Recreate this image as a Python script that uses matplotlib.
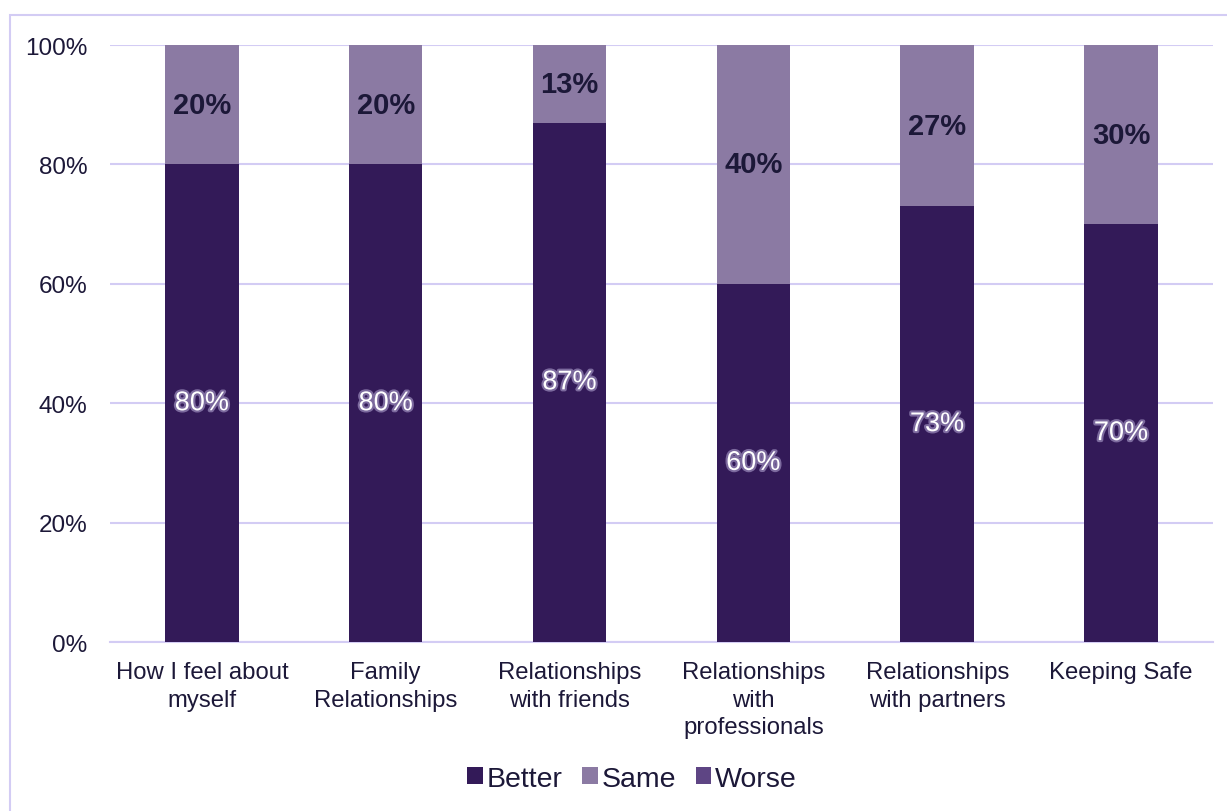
import matplotlib.pyplot as plt
import matplotlib.patheffects as pe
from matplotlib.patches import Rectangle
import numpy as np

plt.rcParams['font.family'] = ['Liberation Sans', 'DejaVu Sans']

# data
categories = ["How I feel about\nmyself", "Family\nRelationships", "Relationships\nwith friends",
              "Relationships\nwith\nprofessionals", "Relationships\nwith partners", "Keeping Safe"]
better = [80, 80, 87, 60, 73, 70]
same = [20, 20, 13, 40, 27, 30]
worse = [0, 0, 0, 0, 0, 0]

c_better = '#331A58'
c_same = '#8B7AA3'
c_worse = '#5E4584'
text_col = '#1C1838'
grid_col = '#D3CCF4'

fig = plt.figure(figsize=(12.27, 8.12), dpi=100)
ax = fig.add_axes([0.0896, 0.2081, 0.8990, 0.7352])

x = np.arange(len(categories))
w = 0.40
b1 = ax.bar(x, better, w, color=c_better, label='Better', zorder=3)
b2 = ax.bar(x, same, w, bottom=better, color=c_same, label='Same', zorder=3)
b3 = ax.bar(x, worse, w, bottom=np.array(better) + np.array(same), color=c_worse,
            label='Worse', zorder=3)

# labels
for xi, v in zip(x, better):
    ax.text(xi, v / 2, f"{v}%", ha='center', va='center', fontsize=19.5, color='white',
            zorder=4, path_effects=[pe.withStroke(linewidth=3, foreground='#7C6A9E')])
for xi, b, v in zip(x, better, same):
    ax.text(xi, b + v / 2, f"{v}%", ha='center', va='center', fontsize=21,
            fontweight='bold', color=text_col, zorder=4)

ax.set_xlim(-0.5, len(categories) - 0.5)
ax.set_ylim(0, 100)
ax.set_yticks([0, 20, 40, 60, 80, 100])
ax.set_yticklabels([f"{t}%" for t in [0, 20, 40, 60, 80, 100]])
ax.set_xticks(x)
ax.set_xticklabels(categories)
for lbl in ax.get_xticklabels():
    lbl.set_linespacing(1.32)
ax.tick_params(axis='y', length=0, labelsize=17.5, colors=text_col, pad=16)
ax.tick_params(axis='x', length=0, labelsize=17.2, colors=text_col, pad=14)
ax.yaxis.grid(True, color=grid_col, linewidth=1.5, zorder=0)
for s in ['top', 'right', 'left']:
    ax.spines[s].set_visible(False)
ax.spines['bottom'].set_color(grid_col)
ax.spines['bottom'].set_linewidth(1.5)

leg = fig.legend(handles=[b1, b2, b3], loc='center', bbox_to_anchor=(0.515, 0.04), ncol=3,
                 frameon=False, fontsize=20.5, handlelength=0.55, handleheight=0.55,
                 handletextpad=0.12, columnspacing=0.7)
for t in leg.get_texts():
    t.set_color(text_col)

# outer chart border
fig.patches.append(Rectangle((10 / 1227, -0.1), 1.2, 1.0803, transform=fig.transFigure,
                             fill=False, edgecolor=grid_col, linewidth=1.5, zorder=0))

fig.savefig('out.png', dpi=100)
